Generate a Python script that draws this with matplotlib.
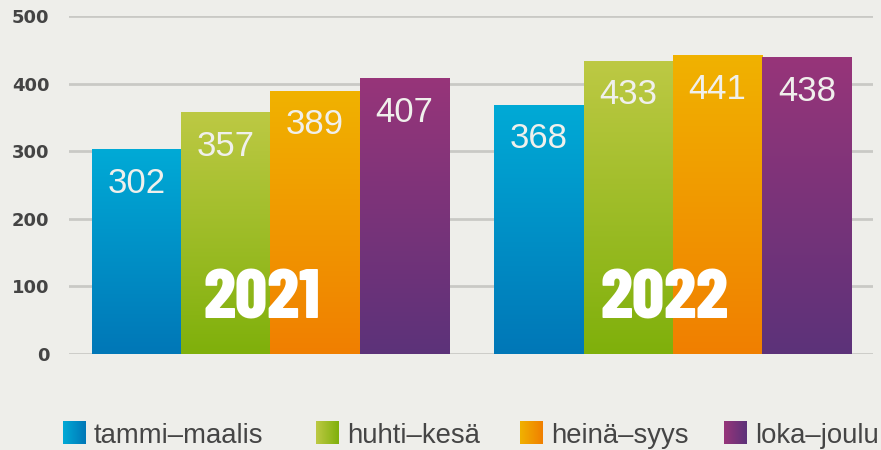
import numpy as np
import matplotlib
matplotlib.use("Agg")
import matplotlib.pyplot as plt
from matplotlib.colors import LinearSegmentedColormap

years = ["2021", "2022"]
quarters = ["tammi–maalis", "huhti–kesä", "heinä–syys", "loka–joulu"]
values_2021 = [302, 357, 389, 407]
values_2022 = [368, 433, 441, 438]
yticks = [0, 100, 200, 300, 400, 500]

# (top colour, bottom colour)
grad_cols = [("#00aad6", "#0077b7"),
             ("#bdc944", "#7fb00b"),
             ("#f1b200", "#f07f00"),
             ("#97357a", "#5c3279")]

BG = "#eeeeea"
W, H = 881, 450
fig = plt.figure(figsize=(W / 100, H / 100), dpi=100, facecolor=BG)
ax = fig.add_axes([69 / W, (H - 354) / H, (873 - 69) / W, (354 - 16) / H])
ax.set_facecolor(BG)

data = np.array([values_2021, values_2022])
gx = np.arange(len(years))
bw = 0.222
grad = np.linspace(0, 1, 256).reshape(-1, 1)
for qi in range(len(quarters)):
    xs = gx + (qi - 1.5) * bw
    bars = ax.bar(xs, data[:, qi], width=bw, color="none", linewidth=0, zorder=2)
    top, bot = grad_cols[qi]
    cmap = LinearSegmentedColormap.from_list("g%d" % qi, [bot, top])
    for b in bars:
        x0, y0, wd, h = b.get_x(), b.get_y(), b.get_width(), b.get_height()
        ax.imshow(grad, extent=[x0, x0 + wd, y0, y0 + h], origin="lower",
                  cmap=cmap, aspect="auto", zorder=2, interpolation="bilinear")
        ax.annotate(f"{int(h)}", xy=(x0 + wd / 2, h), xytext=(0, -24),
                    textcoords="offset points", ha="center", va="center",
                    fontsize=25, color="#f0f0ec", family="Liberation Sans", zorder=4)

for i, yr in enumerate(years):
    ax.text(gx[i] - 0.022, 79, yr, ha="center", va="center", fontsize=51,
            fontweight=800, color="white",
            family=["Barlow Condensed", "DejaVu Sans"], zorder=5)

ax.set_xlim(-0.5, 1.497)
ax.set_ylim(0, 500)
ax.set_yticks(yticks)
ax.set_yticklabels([str(t) for t in yticks], fontsize=13, fontweight="bold",
                   color="#444444", family="DejaVu Sans")
ax.tick_params(axis="y", length=0, pad=14)
ax.set_xticks([])
ax.yaxis.grid(True, color="#c9c9c5", linewidth=2)
ax.set_axisbelow(True)
for s in ax.spines.values():
    s.set_visible(False)

# legend
lax = fig.add_axes([0, 0, 1, 1], facecolor="none")
lax.axis("off")
hgrad = np.linspace(0, 1, 256).reshape(1, -1)
mark_x = [63, 316, 520, 724]
for qi, q in enumerate(quarters):
    top, bot = grad_cols[qi]
    cmap = LinearSegmentedColormap.from_list("l%d" % qi, [top, bot])
    lax.imshow(hgrad, extent=[mark_x[qi], mark_x[qi] + 23, 444, 421],
               cmap=cmap, aspect="auto")
    lax.text(mark_x[qi] + 31, 443, q, ha="left", va="baseline", fontsize=19.8,
             color="#454545", family="Liberation Sans")
lax.set_xlim(0, W)
lax.set_ylim(H, 0)

fig.savefig("out.png", dpi=100, facecolor=BG)
